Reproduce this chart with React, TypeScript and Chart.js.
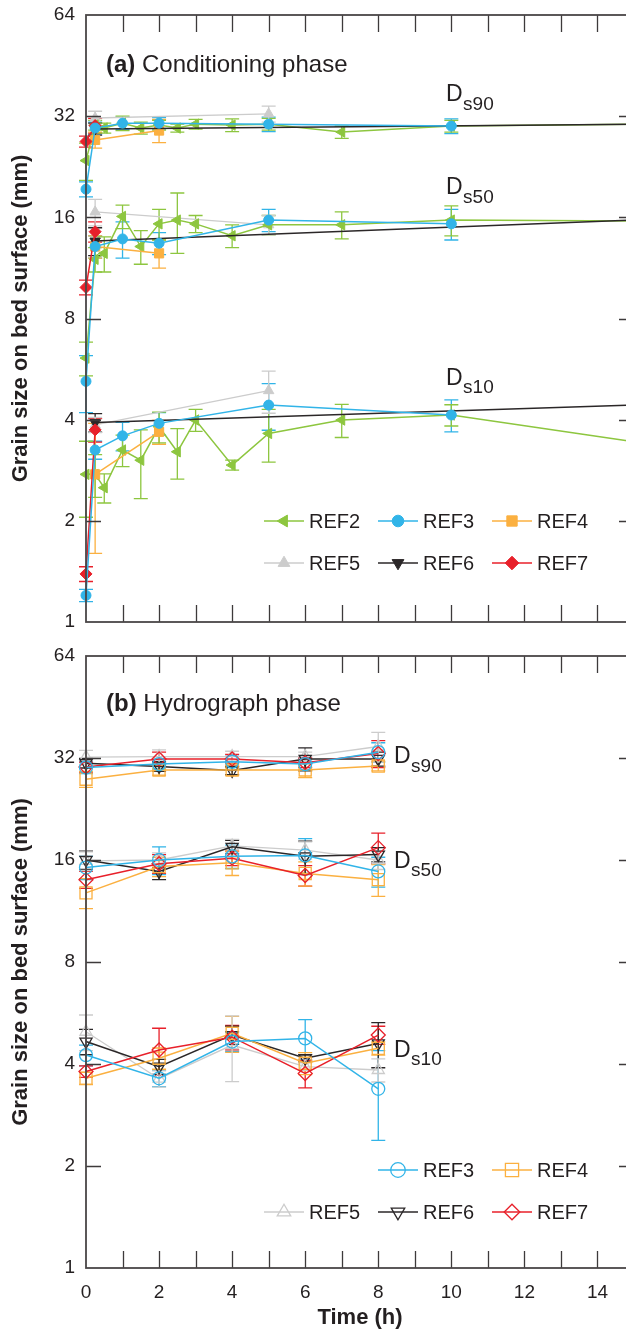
import React, { useEffect, useRef } from 'react';
import { Chart, registerables } from 'chart.js';
import { drawPoint } from 'chart.js/helpers';

Chart.register(...registerables);

// ---------- axis ticks ----------
const X_TICKS = [0, 1, 2, 3, 4, 5, 6, 7, 8, 9, 10, 11, 12, 13, 14, 15];
const X_LABELS = [0, 2, 4, 6, 8, 10, 12, 14];
const Y_TICKS = [1, 2, 4, 8, 16, 32, 64];

// ---------- panel (a) conditioning phase ----------
const A_T_REF2 = [0, 0.25, 0.5, 1, 1.5, 2, 2.5, 3, 4, 5, 7, 10, 15];
const A_REF2_D90 = [23.6, 30.1, 29.5, 30.5, 29.5, 30.1, 29.5, 30.3, 30.1, 30.3, 28.7, 29.9, 30.3];
const A_REF2_D90_ERR = [3.0, 1.0, 1.0, 1.5, 1.2, 1.0, 0.8, 1.0, 1.3, 1.2, 1.2, 1.2, 0];
const A_REF2_D50 = [6.1, 12.0, 12.5, 16.1, 13.1, 15.3, 15.7, 15.3, 14.1, 15.2, 15.2, 15.7, 15.6];
const A_REF2_D50_ERR = [0.7, 1.0, 1.5, 1.3, 1.5, 1.6, 3.2, 0.9, 1.1, 1.0, 1.4, 1.6, 0];
const A_REF2_D10 = [2.75, 2.75, 2.51, 3.25, 3.03, 3.81, 3.21, 3.99, 2.93, 3.64, 3.99, 4.13, 3.44];
const A_REF2_D10_ERR = [0.7, 0.4, 0.25, 0.35, 0.7, 0.4, 0.55, 0.3, 0.1, 0.65, 0.45, 0.3, 0];

const A_T_REF3 = [0, 0.25, 1, 2, 5, 10];
const A_REF3_D90 = [19.4, 29.5, 30.5, 30.5, 30.3, 29.9];
const A_REF3_D90_ERR = [1.0, 1.2, 1.3, 1.2, 1.5, 1.5];
const A_REF3_D50 = [5.2, 13.1, 13.8, 13.4, 15.7, 15.3];
const A_REF3_D50_ERR = [1.0, 1.0, 1.7, 1.0, 1.2, 1.6];
const A_REF3_D10 = [1.2, 3.25, 3.58, 3.9, 4.42, 4.13];
const A_REF3_D10_ERR = [0.05, 0.2, 0.35, 0.3, 0.7, 0.45];

const A_T_REF4 = [0.25, 2];
const A_REF4_D90 = [27.2, 29.0];
const A_REF4_D90_ERR = [1.5, 2.3];
const A_REF4_D50 = [13.1, 12.5];
const A_REF4_D50_ERR = [1.0, 1.2];
const A_REF4_D10 = [2.75, 3.68];
const A_REF4_D10_ERR = [1.15, 0.3];

const A_T_REF5 = [0.25, 5];
const A_REF5_D90 = [31.6, 32.5];
const A_REF5_D90_ERR = [1.5, 1.8];
const A_REF5_D50 = [16.6, 15.2];
const A_REF5_D50_ERR = [1.5, 1.0];
const A_REF5_D10 = [3.86, 4.88];
const A_REF5_D10_ERR = [0.2, 0.7];

const A_T_REF6 = [0.25, 15];
const A_REF6_D90 = [29.3, 30.3];
const A_REF6_D90_ERR = [1.2, 0];
const A_REF6_D50 = [13.6, 15.7];
const A_REF6_D50_ERR = [1.3, 0];
const A_REF6_D10 = [3.92, 4.42];
const A_REF6_D10_ERR = [0.25, 0];

const A_T_REF7 = [0, 0.25];
const A_REF7_D90 = [26.9, 30.0];
const A_REF7_D90_ERR = [1.0, 1.5];
const A_REF7_D50 = [9.9, 14.5];
const A_REF7_D50_ERR = [0.5, 1.0];
const A_REF7_D10 = [1.39, 3.73];
const A_REF7_D10_ERR = [0.07, 0.3];

// ---------- panel (b) hydrograph phase ----------
const B_T = [0, 2, 4, 6, 8];
const B_REF3_D90 = [30.0, 30.7, 31.2, 30.7, 33.3];
const B_REF3_D90_ERR = [1.2, 1.0, 1.2, 1.2, 2.2];
const B_REF3_D50 = [15.2, 16.0, 16.4, 16.5, 14.8];
const B_REF3_D50_ERR = [1.2, 1.5, 1.3, 2.0, 1.5];
const B_REF3_D10 = [4.25, 3.63, 4.66, 4.76, 3.38];
const B_REF3_D10_ERR = [0.3, 0.2, 0.3, 0.65, 1.0];

const B_REF4_D90 = [27.7, 29.5, 29.5, 29.5, 30.3];
const B_REF4_D90_ERR = [1.5, 1.0, 1.0, 1.5, 1.0];
const B_REF4_D50 = [12.8, 15.3, 15.7, 14.6, 14.0];
const B_REF4_D50_ERR = [1.3, 1.0, 1.3, 1.2, 1.5];
const B_REF4_D10 = [3.63, 4.16, 4.93, 4.02, 4.45];
const B_REF4_D10_ERR = [0.15, 0.3, 0.6, 0.3, 0.2];

const B_REF5_D90 = [32.2, 32.3, 32.3, 32.3, 34.6];
const B_REF5_D90_ERR = [1.5, 1.5, 1.2, 1.0, 3.5];
const B_REF5_D50 = [15.9, 16.0, 17.6, 17.1, 16.0];
const B_REF5_D50_ERR = [1.0, 0.8, 0.8, 1.0, 1.0];
const B_REF5_D10 = [4.98, 3.62, 4.55, 3.93, 3.84];
const B_REF5_D10_ERR = [0.6, 0.2, 1.0, 0.1, 0.3];

const B_REF6_D90 = [30.9, 30.2, 29.4, 31.8, 31.8];
const B_REF6_D90_ERR = [1.0, 1.0, 0.8, 2.5, 1.5];
const B_REF6_D50 = [16.0, 14.8, 17.5, 16.4, 16.6];
const B_REF6_D50_ERR = [1.0, 0.8, 0.8, 1.8, 0.8];
const B_REF6_D10 = [4.66, 3.93, 4.87, 4.16, 4.6];
const B_REF6_D10_ERR = [0.4, 0.2, 0.3, 0.1, 0.7];

const B_REF7_D90 = [30.1, 31.8, 31.8, 31.0, 33.0];
const B_REF7_D90_ERR = [1.0, 1.5, 1.0, 1.0, 3.0];
const B_REF7_D50 = [14.0, 15.6, 16.2, 14.4, 17.4];
const B_REF7_D50_ERR = [0.8, 1.0, 0.8, 1.0, 1.8];
const B_REF7_D10 = [3.80, 4.40, 4.80, 3.75, 4.87];
const B_REF7_D10_ERR = [0.15, 0.7, 0.4, 0.35, 0.3];

// ---------- styles ----------
const FONT = '"Liberation Sans", Arial, Helvetica, sans-serif';
const INK = '#231f20';
const STYLE: Record<string, any> = {
  REF2: { color: '#8dc63f', point: 'triangle', rot: -90, ra: 6, rb: 7, lw: 1.5 },
  REF3: { color: '#31b4e8', point: 'circle', rot: 0, ra: 5, rb: 6.5, lw: 1.5 },
  REF4: { color: '#fbb040', point: 'rect', rot: 0, ra: 6.5, rb: 8.5, lw: 1.5 },
  REF5: { color: '#cccccc', point: 'triangle', rot: 0, ra: 6, rb: 7, lw: 1.3 },
  REF6: { color: '#2b2728', point: 'triangle', rot: 180, ra: 6, rb: 7, lw: 1.5 },
  REF7: { color: '#e8202a', point: 'rectRot', rot: 0, ra: 6, rb: 7, lw: 1.5 },
};

const SERIES_A = [
  { ref: 'REF3', t: A_T_REF3, v: [A_REF3_D90, A_REF3_D50, A_REF3_D10], e: [A_REF3_D90_ERR, A_REF3_D50_ERR, A_REF3_D10_ERR] },
  { ref: 'REF7', t: A_T_REF7, v: [A_REF7_D90, A_REF7_D50, A_REF7_D10], e: [A_REF7_D90_ERR, A_REF7_D50_ERR, A_REF7_D10_ERR] },
  { ref: 'REF6', t: A_T_REF6, v: [A_REF6_D90, A_REF6_D50, A_REF6_D10], e: [A_REF6_D90_ERR, A_REF6_D50_ERR, A_REF6_D10_ERR] },
  { ref: 'REF4', t: A_T_REF4, v: [A_REF4_D90, A_REF4_D50, A_REF4_D10], e: [A_REF4_D90_ERR, A_REF4_D50_ERR, A_REF4_D10_ERR] },
  { ref: 'REF2', t: A_T_REF2, v: [A_REF2_D90, A_REF2_D50, A_REF2_D10], e: [A_REF2_D90_ERR, A_REF2_D50_ERR, A_REF2_D10_ERR] },
  { ref: 'REF5', t: A_T_REF5, v: [A_REF5_D90, A_REF5_D50, A_REF5_D10], e: [A_REF5_D90_ERR, A_REF5_D50_ERR, A_REF5_D10_ERR] },
];
const SERIES_B = [
  { ref: 'REF3', t: B_T, v: [B_REF3_D90, B_REF3_D50, B_REF3_D10], e: [B_REF3_D90_ERR, B_REF3_D50_ERR, B_REF3_D10_ERR] },
  { ref: 'REF7', t: B_T, v: [B_REF7_D90, B_REF7_D50, B_REF7_D10], e: [B_REF7_D90_ERR, B_REF7_D50_ERR, B_REF7_D10_ERR] },
  { ref: 'REF4', t: B_T, v: [B_REF4_D90, B_REF4_D50, B_REF4_D10], e: [B_REF4_D90_ERR, B_REF4_D50_ERR, B_REF4_D10_ERR] },
  { ref: 'REF6', t: B_T, v: [B_REF6_D90, B_REF6_D50, B_REF6_D10], e: [B_REF6_D90_ERR, B_REF6_D50_ERR, B_REF6_D10_ERR] },
  { ref: 'REF5', t: B_T, v: [B_REF5_D90, B_REF5_D50, B_REF5_D10], e: [B_REF5_D90_ERR, B_REF5_D50_ERR, B_REF5_D10_ERR] },
];

function buildDatasets(series: any[], hollow: boolean) {
  const out: any[] = [];
  series.forEach((s) => {
    const st = STYLE[s.ref];
    const r = hollow ? st.rb : st.ra;
    s.v.forEach((vals: number[], k: number) => {
      out.push({
        label: s.ref,
        data: s.t.map((t: number, i: number) => ({ x: t, y: vals[i] })),
        errors: s.e[k],
        showLine: true,
        borderColor: st.color,
        borderWidth: st.lw,
        pointStyle: st.point,
        rotation: st.rot,
        pointRotation: st.rot,
        pointRadius: (c: any) => (c.raw && c.raw.x > 14.9 ? 0 : r),
        pointBackgroundColor: hollow ? 'rgba(255,255,255,0)' : st.color,
        pointBorderColor: st.color,
        pointBorderWidth: hollow ? 1.3 : 1,
        clip: false,
        tension: 0,
      });
    });
  });
  return out;
}

const errorBarPlugin = {
  id: 'errbars',
  beforeDatasetsDraw(chart: any) {
    const { ctx } = chart;
    const xs = chart.scales.x;
    const ys = chart.scales.y;
    chart.data.datasets.forEach((ds: any) => {
      const errs = ds.errors;
      if (!errs) return;
      ctx.save();
      ctx.strokeStyle = ds.borderColor;
      ctx.lineWidth = 1.3;
      ds.data.forEach((p: any, i: number) => {
        const e = errs[i];
        if (!e) return;
        const x = xs.getPixelForValue(p.x);
        const y1 = ys.getPixelForValue(p.y + e);
        const y2 = ys.getPixelForValue(Math.max(p.y - e, 0.05));
        ctx.beginPath();
        ctx.moveTo(x, y1); ctx.lineTo(x, y2);
        ctx.moveTo(x - 7, y1); ctx.lineTo(x + 7, y1);
        ctx.moveTo(x - 7, y2); ctx.lineTo(x + 7, y2);
        ctx.stroke();
      });
      ctx.restore();
    });
  },
};

function makeDecoPlugin(panel: 'a' | 'b') {
  const isA = panel === 'a';
  const legendRows = isA ? [521, 563] : [530, 572];
  const legendCols = [264, 378, 492];
  const legendItems = isA
    ? [['REF2', 0, 0], ['REF3', 1, 0], ['REF4', 2, 0], ['REF5', 0, 1], ['REF6', 1, 1], ['REF7', 2, 1]]
    : [['REF3', 1, 0], ['REF4', 2, 0], ['REF5', 0, 1], ['REF6', 1, 1], ['REF7', 2, 1]];
  const dsLabels = isA
    ? [['90', 446, 101, 110], ['50', 446, 194, 203], ['10', 446, 385, 393]]
    : [['90', 394, 123, 131.5], ['50', 394, 228, 236], ['10', 394, 417, 425]];
  return {
    id: 'deco' + panel,
    afterDraw(chart: any) {
      const { ctx, chartArea } = chart;
      const { left, right, top, bottom } = chartArea;
      const xs = chart.scales.x;
      const ys = chart.scales.y;
      ctx.save();
      // ticks
      ctx.strokeStyle = '#3d3a3b';
      ctx.lineWidth = 1.3;
      ctx.beginPath();
      xs.ticks.forEach((t: any) => {
        const x = Math.round(xs.getPixelForValue(t.value)) + 0.5;
        if (x <= left + 1 || x >= right - 1) return;
        ctx.moveTo(x, bottom); ctx.lineTo(x, bottom - 17);
        ctx.moveTo(x, top); ctx.lineTo(x, top + 17);
      });
      ys.ticks.forEach((t: any) => {
        const y = Math.round(ys.getPixelForValue(t.value)) + 0.5;
        if (y <= top + 1 || y >= bottom - 1) return;
        ctx.moveTo(left, y); ctx.lineTo(left + 15, y);
        ctx.moveTo(right, y); ctx.lineTo(right - 15, y);
      });
      ctx.stroke();
      // frame
      ctx.strokeStyle = '#4a4647';
      ctx.lineWidth = 1.8;
      ctx.strokeRect(left, top, right - left, bottom - top);

      // panel title
      ctx.fillStyle = INK;
      ctx.textBaseline = 'alphabetic';
      ctx.textAlign = 'left';
      ctx.font = `bold 24px ${FONT}`;
      const tag = isA ? '(a)' : '(b)';
      ctx.fillText(tag, 106, isA ? 72 : 71);
      const w = ctx.measureText(tag).width;
      ctx.font = `24px ${FONT}`;
      ctx.fillText(isA ? ' Conditioning phase' : ' Hydrograph phase', 106 + w, isA ? 72 : 71);

      // D labels
      dsLabels.forEach(([sub, x, yb, ys2]: any) => {
        ctx.font = `23px ${FONT}`;
        ctx.fillText('D', x, yb);
        const dw = ctx.measureText('D').width;
        ctx.font = `19px ${FONT}`;
        ctx.fillText('s' + sub, x + dw + 0.5, ys2);
      });

      // legend
      legendItems.forEach(([ref, col, row]: any) => {
        const st = STYLE[ref];
        const x0 = legendCols[col];
        const y = legendRows[row];
        ctx.strokeStyle = st.color;
        ctx.lineWidth = st.lw;
        ctx.beginPath();
        ctx.moveTo(x0, y); ctx.lineTo(x0 + 40, y);
        ctx.stroke();
        ctx.fillStyle = isA ? st.color : 'rgba(255,255,255,0)';
        ctx.lineWidth = isA ? 1 : 1.3;
        drawPoint(ctx, { pointStyle: st.point, rotation: st.rot, radius: (isA ? st.ra : st.rb) + 0.8, borderWidth: isA ? 1 : 1.3 } as any, x0 + 20, y);
        ctx.fillStyle = INK;
        ctx.font = `20px ${FONT}`;
        ctx.textBaseline = 'middle';
        ctx.fillText(ref, x0 + 45, y + 1);
        ctx.textBaseline = 'alphabetic';
      });
      ctx.restore();
    },
  };
}

function buildConfig(panel: 'a' | 'b'): any {
  const isA = panel === 'a';
  const H = isA ? 640 : 693;
  const areaBottom = isA ? 622 : 628;
  return {
    type: 'scatter',
    data: { datasets: buildDatasets(isA ? SERIES_A : SERIES_B, !isA) },
    options: {
      animation: false,
      responsive: false,
      devicePixelRatio: 1,
      layout: { autoPadding: false, padding: { top: isA ? 15 : 16, right: 6, left: 0, bottom: 0 } },
      plugins: { legend: { display: false }, tooltip: { enabled: false } },
      scales: {
        x: {
          type: 'linear',
          min: 0,
          max: 15,
          grid: { display: false, drawTicks: false },
          border: { display: false },
          afterBuildTicks: (s: any) => { s.ticks = X_TICKS.map((v) => ({ value: v })); },
          afterFit: (s: any) => {
            s.height = H - areaBottom;
            s.paddingLeft = 0; s.paddingRight = 0; s.paddingTop = 0; s.paddingBottom = 0;
          },
          ticks: {
            display: !isA,
            autoSkip: false,
            maxRotation: 0,
            padding: 13,
            color: INK,
            font: { family: FONT, size: 19 },
            callback: (v: any) => (X_LABELS.includes(Number(v)) ? String(v) : ''),
          },
          title: {
            display: !isA,
            text: 'Time (h)',
            color: INK,
            font: { family: FONT, size: 22, weight: 'bold' },
            padding: { top: 0, bottom: 2 },
          },
        },
        y: {
          type: 'logarithmic',
          min: 1,
          max: 64,
          grid: { display: false, drawTicks: false },
          border: { display: false },
          afterBuildTicks: (s: any) => { s.ticks = Y_TICKS.map((v) => ({ value: v })); },
          afterFit: (s: any) => {
            s.width = 86;
            s.paddingLeft = 0; s.paddingRight = 0; s.paddingTop = 0; s.paddingBottom = 0;
          },
          ticks: {
            autoSkip: false,
            padding: 11,
            color: INK,
            font: { family: FONT, size: 19 },
            callback: (v: any) => String(v),
          },
          title: {
            display: true,
            text: 'Grain size on bed surface (mm)',
            color: INK,
            font: { family: FONT, size: 22, weight: 'bold' },
            padding: { top: 8, bottom: 0 },
          },
        },
      },
    },
    plugins: [errorBarPlugin, makeDecoPlugin(panel)],
  };
}

export default function App() {
  const refA = useRef<HTMLCanvasElement>(null);
  const refB = useRef<HTMLCanvasElement>(null);
  useEffect(() => {
    document.body.style.margin = '0';
    const a = new Chart(refA.current as HTMLCanvasElement, buildConfig('a'));
    const b = new Chart(refB.current as HTMLCanvasElement, buildConfig('b'));
    return () => {
      a.destroy();
      b.destroy();
    };
  }, []);
  return (
    <div style={{ width: 626, height: 1333, overflow: 'hidden', background: '#fff' }}>
      <canvas ref={refA} width={640} height={640} style={{ display: 'block', width: 640, height: 640 }} />
      <canvas ref={refB} width={640} height={693} style={{ display: 'block', width: 640, height: 693 }} />
    </div>
  );
}
